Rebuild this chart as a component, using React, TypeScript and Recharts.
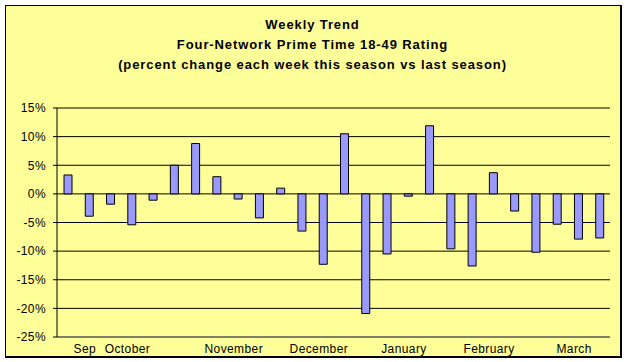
import { Bar, BarChart, CartesianGrid, XAxis, YAxis } from "recharts"

// Weekly % change, this season vs last season (four-network prime time, 18-49)
const WEEKS = [
  1, 2, 3, 4, 5, 6, 7, 8, 9, 10, 11, 12, 13, 14, 15, 16, 17, 18, 19, 20, 21,
  22, 23, 24, 25, 26,
]
const WEEK_LABELS = [
  "", "Sep", "", "October", "", "", "", "", "November", "", "", "",
  "December", "", "", "", "January", "", "", "", "February", "", "", "",
  "March", "",
]
const PCT_CHANGE = [
  3.3, -3.9, -1.8, -5.4, -1.1, 5.0, 8.8, 3.0, -0.9, -4.2, 1.0, -6.5, -12.3,
  10.5, -20.9, -10.5, -0.4, 11.9, -9.6, -12.6, 3.7, -3.0, -10.2, -5.3, -7.9,
  -7.7,
]
const Y_TICKS = [-25, -20, -15, -10, -5, 0, 5, 10, 15]
const TITLE_LINES = [
  "Weekly Trend",
  "Four-Network Prime Time 18-49 Rating",
  "(percent change each week this season vs last season)",
]

const FONT = '"Liberation Sans", Arial, sans-serif'
const FRAME = "#808080"

export default function App() {
  const data = WEEKS.map((week, i) => ({ week, change: PCT_CHANGE[i] }))

  return (
    <div
      style={{
        position: "absolute",
        left: 0,
        top: 0,
        width: 625,
        height: 362,
        background: "#fff",
        fontFamily: FONT,
      }}
    >
      <div
        style={{
          position: "absolute",
          left: 5,
          top: 5,
          width: 617,
          height: 353,
          boxSizing: "border-box",
          borderStyle: "solid",
          borderColor: "#000",
          borderWidth: "1px 2px 2px 1px",
          background: "#FFFF99",
        }}
      />
      <div
        style={{
          position: "absolute",
          left: 0,
          top: 15,
          width: 625,
          textAlign: "center",
          fontWeight: "bold",
          fontSize: 13,
          letterSpacing: 0.9,
          lineHeight: "20px",
          color: "#000",
        }}
      >
        {TITLE_LINES.map((t) => (
          <div key={t}>{t}</div>
        ))}
      </div>
      <BarChart
        width={625}
        height={362}
        data={data}
        margin={{ top: 108, right: 15, bottom: 5, left: 0 }}
        style={{ position: "absolute", left: 0, top: 0 }}
      >
        <CartesianGrid vertical={false} stroke="#000" strokeWidth={1} />
        <XAxis
          dataKey="week"
          interval={0}
          height={20}
          tickLine={false}
          tickSize={5}
          axisLine={{ stroke: FRAME }}
          tickFormatter={(v: number) => WEEK_LABELS[v - 1]}
          tick={{ fill: "#000", fontSize: 12, fontFamily: FONT, letterSpacing: 0.4, dx: -4 }}
        />
        <XAxis
          xAxisId="top"
          orientation="top"
          dataKey="week"
          height={0}
          tick={false}
          tickLine={false}
          axisLine={{ stroke: FRAME }}
        />
        <YAxis
          domain={[-25, 15]}
          ticks={Y_TICKS}
          interval={0}
          width={57}
          tickSize={4}
          tickMargin={7}
          allowDataOverflow
          axisLine={{ stroke: "#000" }}
          tickLine={{ stroke: "#000" }}
          tickFormatter={(v: number) => `${v}%`}
          tick={{ fill: "#000", fontSize: 12, fontFamily: FONT, letterSpacing: 0.4 }}
        />
        <YAxis
          yAxisId="right"
          orientation="right"
          domain={[-25, 15]}
          ticks={Y_TICKS}
          width={0}
          tick={false}
          tickLine={false}
          axisLine={{ stroke: FRAME }}
        />
        <Bar
          dataKey="change"
          fill="#9999FF"
          stroke="#000"
          strokeWidth={1}
          barSize={8}
          isAnimationActive={false}
        />
      </BarChart>
    </div>
  )
}
